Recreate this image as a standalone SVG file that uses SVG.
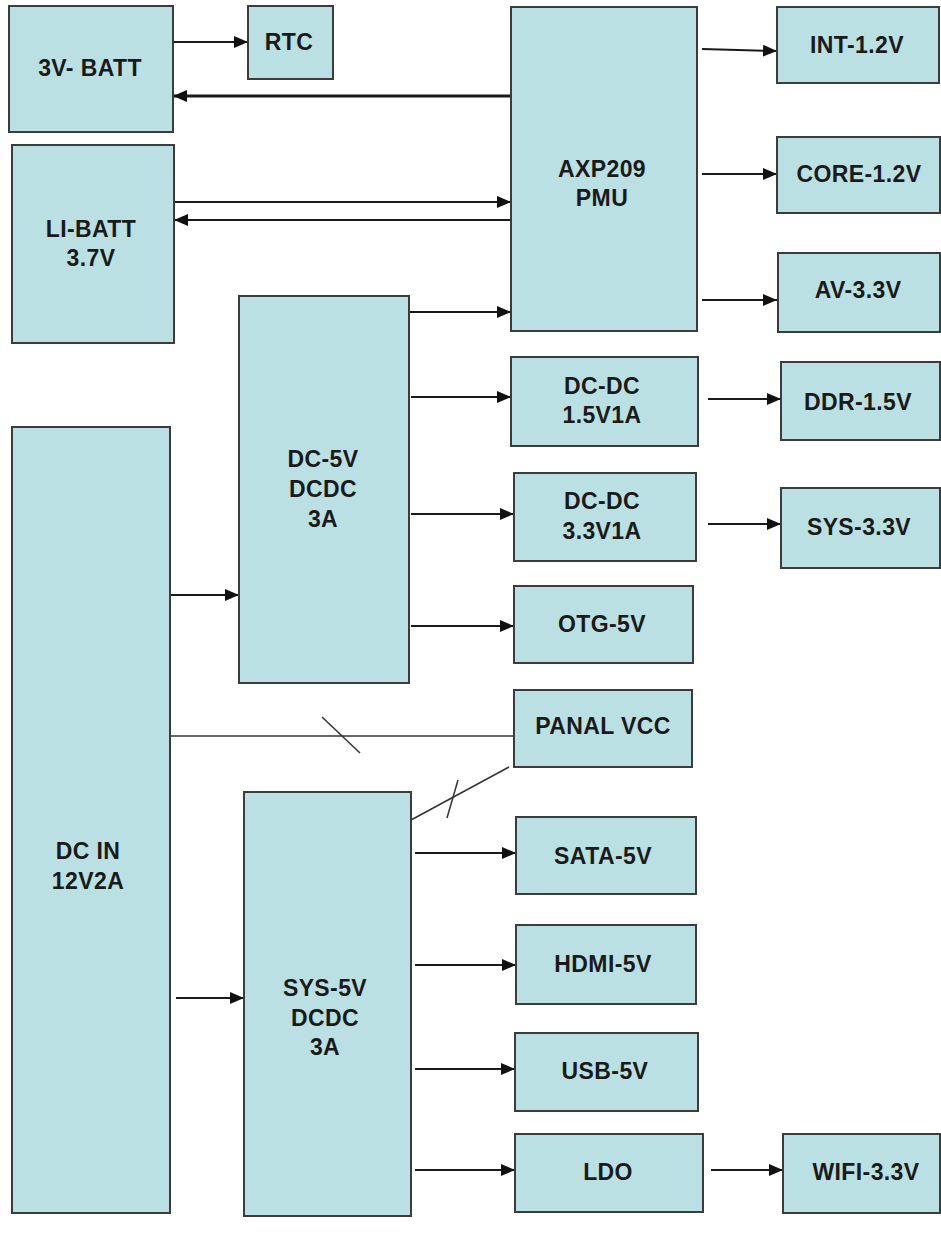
<svg xmlns="http://www.w3.org/2000/svg" width="941" height="1249" viewBox="0 0 941 1249">
<style>
.box{fill:#BBE0E3;stroke:#3c3c3c;stroke-width:2}
.t{font-family:"Liberation Sans",Arial,sans-serif;font-weight:bold;font-size:23px;letter-spacing:0.4px;fill:#1a1a1a;text-anchor:middle}
.c{fill:none;stroke:#1a1a1a;stroke-width:2}
.th{fill:none;stroke:#1a1a1a;stroke-width:3}
.thin{fill:none;stroke:#333;stroke-width:1.5}
</style>
<defs>
<marker id="ah" markerUnits="userSpaceOnUse" markerWidth="15" markerHeight="13" refX="14" refY="6.5" orient="auto">
<path d="M0,0.5 L14,6.5 L0,12.5 z" fill="#111"/>
</marker>
</defs>
<g id="connectors">
<path class="c" d="M173,42 H248" marker-end="url(#ah)"/>
<path class="th" d="M511,96 H173" marker-end="url(#ah)"/>
<path class="c" d="M174,202 H511" marker-end="url(#ah)"/>
<path class="c" d="M511,220 H174" marker-end="url(#ah)"/>
<path class="c" d="M702,49 L777,51" marker-end="url(#ah)"/>
<path class="c" d="M702,174 H777" marker-end="url(#ah)"/>
<path class="c" d="M702,300 H777" marker-end="url(#ah)"/>
<path class="c" d="M409,312 H511" marker-end="url(#ah)"/>
<path class="c" d="M411,397 H511" marker-end="url(#ah)"/>
<path class="c" d="M411,514 H514" marker-end="url(#ah)"/>
<path class="c" d="M411,626 H514" marker-end="url(#ah)"/>
<path class="c" d="M708,399 H781" marker-end="url(#ah)"/>
<path class="c" d="M708,524 H781" marker-end="url(#ah)"/>
<path class="c" d="M170,595 H239" marker-end="url(#ah)"/>
<path class="thin" d="M170,736 H514"/>
<path class="thin" d="M322,717 L360,753"/>
<path class="thin" d="M411,820 L509,767"/>
<path class="thin" d="M458,780 L447,818"/>
<path class="c" d="M176,998 H244" marker-end="url(#ah)"/>
<path class="c" d="M415,853 H516" marker-end="url(#ah)"/>
<path class="c" d="M415,965 H516" marker-end="url(#ah)"/>
<path class="c" d="M415,1069 H515" marker-end="url(#ah)"/>
<path class="c" d="M415,1170 H515" marker-end="url(#ah)"/>
<path class="c" d="M711,1170 H783" marker-end="url(#ah)"/>
</g>
<g id="batt3v"><rect class="box" x="9" y="6" width="164" height="126"/><text class="t" x="90" y="76">3V- BATT</text></g>
<g id="rtc"><rect class="box" x="248" y="6" width="85" height="73"/><text class="t" x="289" y="50">RTC</text></g>
<g id="libatt"><rect class="box" x="12" y="145" width="162" height="198"/><text class="t" x="91" y="237">LI-BATT</text><text class="t" x="91" y="266">3.7V</text></g>
<g id="pmu"><rect class="box" x="511" y="7" width="186" height="324"/><text class="t" x="602" y="177">AXP209</text><text class="t" x="602" y="206">PMU</text></g>
<g id="int12"><rect class="box" x="777" y="7" width="162" height="76"/><text class="t" x="857" y="53">INT-1.2V</text></g>
<g id="core12"><rect class="box" x="777" y="137" width="163" height="76"/><text class="t" x="859" y="182">CORE-1.2V</text></g>
<g id="av33"><rect class="box" x="778" y="253" width="162" height="79"/><text class="t" x="858" y="298">AV-3.3V</text></g>
<g id="dc5v"><rect class="box" x="239" y="296" width="170" height="387"/><text class="t" x="323" y="467">DC-5V</text><text class="t" x="323" y="497">DCDC</text><text class="t" x="323" y="527">3A</text></g>
<g id="dcdc15"><rect class="box" x="511" y="357" width="187" height="89"/><text class="t" x="602" y="394">DC-DC</text><text class="t" x="602" y="423">1.5V1A</text></g>
<g id="ddr15"><rect class="box" x="781" y="362" width="159" height="78"/><text class="t" x="858" y="410">DDR-1.5V</text></g>
<g id="dcdc33"><rect class="box" x="514" y="473" width="182" height="88"/><text class="t" x="602" y="509">DC-DC</text><text class="t" x="602" y="539">3.3V1A</text></g>
<g id="sys33"><rect class="box" x="781" y="488" width="159" height="80"/><text class="t" x="859" y="535">SYS-3.3V</text></g>
<g id="otg5v"><rect class="box" x="514" y="586" width="179" height="77"/><text class="t" x="602" y="632">OTG-5V</text></g>
<g id="dcin"><rect class="box" x="12" y="427" width="158" height="786"/><text class="t" x="88" y="859">DC IN</text><text class="t" x="88" y="889">12V2A</text></g>
<g id="panal"><rect class="box" x="514" y="690" width="178" height="77"/><text class="t" x="603" y="734">PANAL VCC</text></g>
<g id="sys5v"><rect class="box" x="244" y="792" width="167" height="424"/><text class="t" x="325" y="996">SYS-5V</text><text class="t" x="325" y="1026">DCDC</text><text class="t" x="325" y="1055">3A</text></g>
<g id="sata5v"><rect class="box" x="516" y="817" width="180" height="77"/><text class="t" x="603" y="864">SATA-5V</text></g>
<g id="hdmi5v"><rect class="box" x="516" y="925" width="180" height="79"/><text class="t" x="603" y="972">HDMI-5V</text></g>
<g id="usb5v"><rect class="box" x="515" y="1033" width="183" height="78"/><text class="t" x="605" y="1079">USB-5V</text></g>
<g id="ldo"><rect class="box" x="515" y="1134" width="188" height="78"/><text class="t" x="608" y="1180">LDO</text></g>
<g id="wifi33"><rect class="box" x="783" y="1134" width="157" height="79"/><text class="t" x="866" y="1180">WIFI-3.3V</text></g>
</svg>
